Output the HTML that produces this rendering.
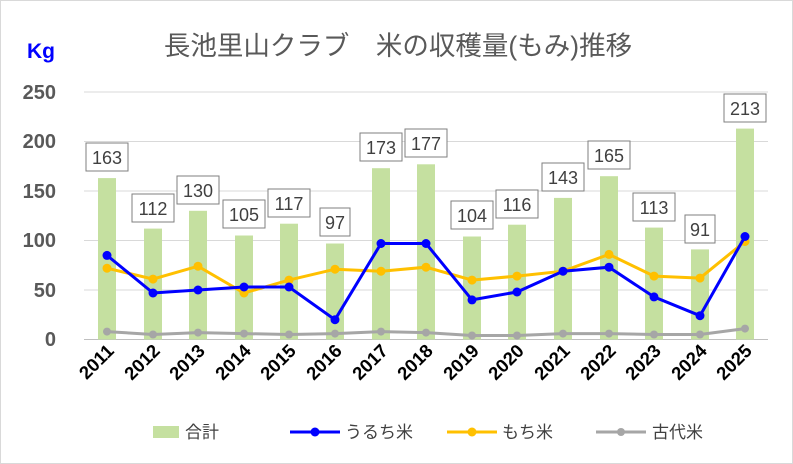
<!DOCTYPE html>
<html><head><meta charset="utf-8"><style>
body{margin:0;background:#fff}
svg{display:block;font-family:"Liberation Sans","Noto Sans CJK JP",sans-serif}
</style></head><body>
<svg width="793" height="464" viewBox="0 0 793 464">
<rect x="0.5" y="0.5" width="792" height="463" fill="#fff" stroke="#d9d9d9"/>
<text x="398" y="55" font-size="26.5" fill="#595959" text-anchor="middle">長池里山クラブ　米の収穫量(もみ)推移</text>
<text x="41" y="58" font-size="21" font-weight="bold" fill="#0000ff" text-anchor="middle">Kg</text>
<g stroke="#d9d9d9" stroke-width="1">
<line x1="84" y1="92" x2="768" y2="92"/><line x1="84" y1="141.5" x2="768" y2="141.5"/><line x1="84" y1="191" x2="768" y2="191"/><line x1="84" y1="240.5" x2="768" y2="240.5"/><line x1="84" y1="290" x2="768" y2="290"/>
</g>
<line x1="84" y1="339.5" x2="768" y2="339.5" stroke="#bfbfbf"/>
<g font-size="20" font-weight="bold" fill="#595959" text-anchor="end">
<text x="56" y="99">250</text><text x="56" y="148">200</text><text x="56" y="198">150</text><text x="56" y="247">100</text><text x="56" y="297">50</text><text x="56" y="346">0</text>
</g>
<g fill="#c5e0a0">
<rect x="98" y="178.1" width="18" height="161.4"/><rect x="144" y="228.6" width="18" height="110.9"/><rect x="189" y="210.8" width="18" height="128.7"/><rect x="235" y="235.5" width="18" height="104"/><rect x="280" y="223.7" width="18" height="115.8"/><rect x="326" y="243.5" width="18" height="96"/><rect x="372" y="168.2" width="18" height="171.3"/><rect x="417" y="164.3" width="18" height="175.2"/><rect x="463" y="236.5" width="18" height="103"/><rect x="508" y="224.7" width="18" height="114.8"/><rect x="554" y="197.9" width="18" height="141.6"/><rect x="600" y="176.2" width="18" height="163.3"/><rect x="645" y="227.6" width="18" height="111.9"/><rect x="691" y="249.4" width="18" height="90.1"/><rect x="736" y="128.6" width="18" height="210.9"/>
</g>
<g fill="#fff" stroke="#7f7f7f" stroke-width="1">
<rect x="86" y="143" width="42" height="28"/><rect x="132" y="194" width="42" height="28"/><rect x="177" y="176" width="42" height="28"/><rect x="223" y="200" width="42" height="28"/><rect x="268" y="189" width="42" height="28"/><rect x="320" y="208" width="30" height="28"/><rect x="360" y="133" width="42" height="28"/><rect x="405" y="129" width="42" height="28"/><rect x="451" y="201" width="42" height="28"/><rect x="496" y="190" width="42" height="28"/><rect x="542" y="163" width="42" height="28"/><rect x="588" y="141" width="42" height="28"/><rect x="633" y="193" width="42" height="28"/><rect x="685" y="215" width="30" height="28"/><rect x="724" y="94" width="42" height="28"/>
</g>
<g font-size="18" fill="#404040" text-anchor="middle">
<text x="107" y="164">163</text><text x="153" y="215">112</text><text x="198" y="197">130</text><text x="244" y="221">105</text><text x="289" y="210">117</text><text x="335" y="229">97</text><text x="381" y="154">173</text><text x="426" y="150">177</text><text x="472" y="222">104</text><text x="517" y="211">116</text><text x="563" y="184">143</text><text x="609" y="162">165</text><text x="654" y="214">113</text><text x="700" y="236">91</text><text x="745" y="115">213</text>
</g>
<polyline fill="none" stroke="#a6a6a6" stroke-width="3" points="107,331.6 153,334.5 198,332.6 244,333.6 289,334.5 335,333.6 381,331.6 426,332.6 472,335.5 517,335.5 563,333.6 609,333.6 654,334.5 700,334.5 745,328.6"/>
<g fill="#a6a6a6"><circle cx="107" cy="331.6" r="4"/><circle cx="153" cy="334.5" r="4"/><circle cx="198" cy="332.6" r="4"/><circle cx="244" cy="333.6" r="4"/><circle cx="289" cy="334.5" r="4"/><circle cx="335" cy="333.6" r="4"/><circle cx="381" cy="331.6" r="4"/><circle cx="426" cy="332.6" r="4"/><circle cx="472" cy="335.5" r="4"/><circle cx="517" cy="335.5" r="4"/><circle cx="563" cy="333.6" r="4"/><circle cx="609" cy="333.6" r="4"/><circle cx="654" cy="334.5" r="4"/><circle cx="700" cy="334.5" r="4"/><circle cx="745" cy="328.6" r="4"/></g>
<polyline fill="none" stroke="#ffc000" stroke-width="3" points="107,268.2 153,279.1 198,266.2 244,293 289,280.1 335,269.2 381,271.2 426,267.2 472,280.1 517,276.1 563,271.2 609,254.4 654,276.1 700,278.1 745,241.5"/>
<g fill="#ffc000"><circle cx="107" cy="268.2" r="4.5"/><circle cx="153" cy="279.1" r="4.5"/><circle cx="198" cy="266.2" r="4.5"/><circle cx="244" cy="293" r="4.5"/><circle cx="289" cy="280.1" r="4.5"/><circle cx="335" cy="269.2" r="4.5"/><circle cx="381" cy="271.2" r="4.5"/><circle cx="426" cy="267.2" r="4.5"/><circle cx="472" cy="280.1" r="4.5"/><circle cx="517" cy="276.1" r="4.5"/><circle cx="563" cy="271.2" r="4.5"/><circle cx="609" cy="254.4" r="4.5"/><circle cx="654" cy="276.1" r="4.5"/><circle cx="700" cy="278.1" r="4.5"/><circle cx="745" cy="241.5" r="4.5"/></g>
<polyline fill="none" stroke="#0000ff" stroke-width="3" points="107,255.4 153,293 198,290 244,287 289,287 335,319.7 381,243.5 426,243.5 472,299.9 517,292 563,271.2 609,267.2 654,296.9 700,315.7 745,236.5"/>
<g fill="#0000ff"><circle cx="107" cy="255.4" r="4.5"/><circle cx="153" cy="293" r="4.5"/><circle cx="198" cy="290" r="4.5"/><circle cx="244" cy="287" r="4.5"/><circle cx="289" cy="287" r="4.5"/><circle cx="335" cy="319.7" r="4.5"/><circle cx="381" cy="243.5" r="4.5"/><circle cx="426" cy="243.5" r="4.5"/><circle cx="472" cy="299.9" r="4.5"/><circle cx="517" cy="292" r="4.5"/><circle cx="563" cy="271.2" r="4.5"/><circle cx="609" cy="267.2" r="4.5"/><circle cx="654" cy="296.9" r="4.5"/><circle cx="700" cy="315.7" r="4.5"/><circle cx="745" cy="236.5" r="4.5"/></g>
<g font-size="18.5" font-weight="bold" fill="#000" text-anchor="end">
<text transform="translate(115,352) rotate(-45)">2011</text><text transform="translate(161,352) rotate(-45)">2012</text><text transform="translate(206,352) rotate(-45)">2013</text><text transform="translate(252,352) rotate(-45)">2014</text><text transform="translate(297,352) rotate(-45)">2015</text><text transform="translate(343,352) rotate(-45)">2016</text><text transform="translate(389,352) rotate(-45)">2017</text><text transform="translate(434,352) rotate(-45)">2018</text><text transform="translate(480,352) rotate(-45)">2019</text><text transform="translate(525,352) rotate(-45)">2020</text><text transform="translate(571,352) rotate(-45)">2021</text><text transform="translate(617,352) rotate(-45)">2022</text><text transform="translate(662,352) rotate(-45)">2023</text><text transform="translate(708,352) rotate(-45)">2024</text><text transform="translate(753,352) rotate(-45)">2025</text>
</g>
<g font-size="17" fill="#404040">
<rect x="153" y="426" width="26" height="12" fill="#c5e0a0"/><text x="185" y="438">合計</text>
<line x1="290" y1="432" x2="340" y2="432" stroke="#0000ff" stroke-width="3"/><circle cx="315" cy="432" r="4.5" fill="#0000ff"/><text x="345" y="438">うるち米</text>
<line x1="447" y1="432" x2="497" y2="432" stroke="#ffc000" stroke-width="3"/><circle cx="472" cy="432" r="4.5" fill="#ffc000"/><text x="502" y="438">もち米</text>
<line x1="596" y1="432" x2="646" y2="432" stroke="#a6a6a6" stroke-width="3"/><circle cx="621" cy="432" r="4" fill="#a6a6a6"/><text x="652" y="438">古代米</text>
</g>
</svg>
</body></html>
